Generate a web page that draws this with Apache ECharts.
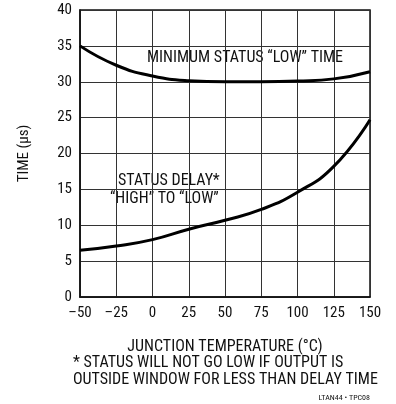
<!DOCTYPE html>
<html><head><meta charset="utf-8">
<script src="https://cdn.jsdelivr.net/npm/echarts@6/dist/echarts.min.js"></script>
<style>html,body{margin:0;padding:0;background:#fff}#c{width:396px;height:404px}</style>
</head><body><div id="c"></div>
<script>
var xTicks = [-50, -25, 0, 25, 50, 75, 100, 125, 150];
var minLowTemps = [-50, -25, 0, 25, 50, 75, 100, 125, 150];
var minLowTime = [35, 32.3, 30.8, 30.15, 30.0, 30.0, 30.1, 30.4, 31.4];
var delayTemps = [-50, -25, 0, 25, 50, 75, 100, 125, 150];
var delayTime = [6.5, 7.1, 8.0, 9.45, 10.7, 12.2, 14.6, 18.2, 24.7];
var FONT = "'Liberation Sans Narrow', 'Roboto Condensed', 'Liberation Sans', Arial, sans-serif";

function pairs(xs, ys){ return xs.map(function(x,i){ return [x, ys[i]]; }); }

var chart = echarts.init(document.getElementById('c'));
chart.setOption({
  animation: false,
  grid: {left: 80, right: 26, top: 10, bottom: 107, show: true, borderColor: '#111', borderWidth: 1.5},
  textStyle: {fontFamily: FONT},
  xAxis: {
    type: 'value', min: -50, max: 150, interval: 25,
    axisLine: {show: true, onZero: false, lineStyle: {color: '#111', width: 1.5}},
    axisTick: {show: false},
    splitLine: {show: true, lineStyle: {color: '#333', width: 1}},
    axisLabel: {color: '#111', fontSize: 15, fontFamily: FONT, margin: 9,
      formatter: function(v){ return v < 0 ? '\u2013' + Math.abs(v) : String(v); }},
    name: 'JUNCTION TEMPERATURE (\u00B0C)', nameLocation: 'middle', nameGap: 42,
    nameTextStyle: {color: '#111', fontSize: 16, fontFamily: FONT}
  },
  yAxis: {
    type: 'value', min: 0, max: 40, interval: 5,
    axisLine: {show: true, onZero: false, lineStyle: {color: '#111', width: 1.5}},
    axisTick: {show: false},
    splitLine: {show: true, lineStyle: {color: '#333', width: 1}},
    axisLabel: {color: '#111', fontSize: 15, fontFamily: FONT, margin: 8},
    name: 'TIME (\u00B5s)', nameLocation: 'middle', nameGap: 48, nameRotate: 90,
    nameTextStyle: {color: '#111', fontSize: 15, fontFamily: FONT}
  },
  series: [
    {type: 'line', data: pairs(minLowTemps, minLowTime), smooth: 0.5, showSymbol: false,
     lineStyle: {color: '#000', width: 3}},
    {type: 'line', data: pairs(delayTemps, delayTime), smooth: 0.5, showSymbol: false,
     lineStyle: {color: '#000', width: 3}}
  ],
  graphic: [
    {type: 'text', left: 147, top: 50, style: {text: 'MINIMUM STATUS \u201CLOW\u201D TIME', font: '16px ' + FONT, fill: '#111'}},
    {type: 'text', left: 118, top: 173, style: {text: 'STATUS DELAY*', font: '16px ' + FONT, fill: '#111'}},
    {type: 'text', left: 110, top: 191, style: {text: '\u201CHIGH\u201D TO \u201CLOW\u201D', font: '16px ' + FONT, fill: '#111'}},
    {type: 'text', left: 73, top: 355, style: {text: '* STATUS WILL NOT GO LOW IF OUTPUT IS', font: '16px ' + FONT, fill: '#111'}},
    {type: 'text', left: 73, top: 372, style: {text: 'OUTSIDE WINDOW FOR LESS THAN DELAY TIME', font: '16px ' + FONT, fill: '#111'}},
    {type: 'text', right: 26, top: 394, style: {text: 'LTAN44 \u2022 TPC08', font: '8px ' + FONT, fill: '#111'}}
  ]
});
</script></body></html>
